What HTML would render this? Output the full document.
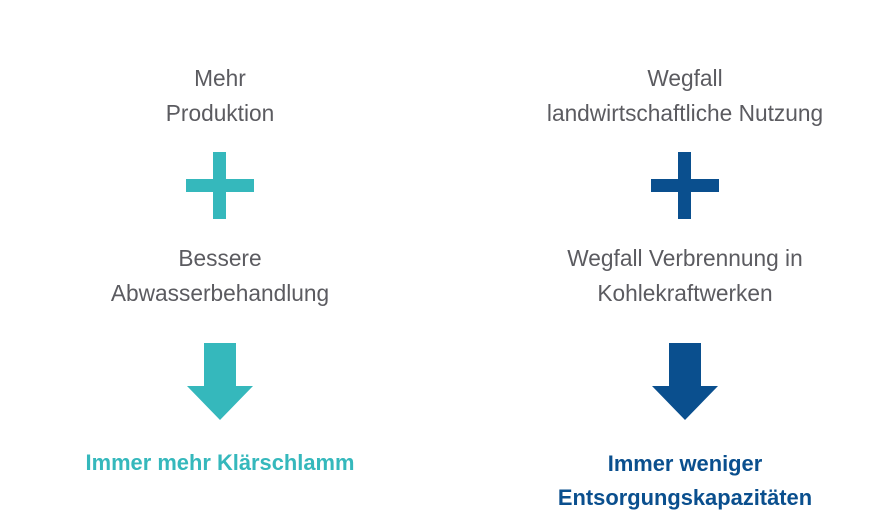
<!DOCTYPE html>
<html><head><meta charset="utf-8"><style>
html,body{margin:0;padding:0;background:#fff;}
body{width:891px;height:518px;position:relative;overflow:hidden;font-family:"Liberation Sans",sans-serif;}
.t{position:absolute;width:500px;text-align:center;color:#5b5b60;font-size:22.7px;line-height:35px;}
.b{position:absolute;width:500px;text-align:center;font-size:21.9px;font-weight:bold;line-height:34px;}
</style></head><body>
<div class="t" style="left:-30px;top:61px">Mehr<br>Produktion</div>
<div class="t" style="left:435px;top:61px">Wegfall<br>landwirtschaftliche Nutzung</div>
<div class="t" style="left:-30px;top:241px">Bessere<br>Abwasserbehandlung</div>
<div class="t" style="left:435px;top:241px">Wegfall Verbrennung in<br>Kohlekraftwerken</div>
<div class="b" style="left:-30px;top:446px;color:#35b8bc">Immer mehr Klärschlamm</div>
<div class="b" style="left:435px;top:447px;color:#0a4f8e">Immer weniger<br>Entsorgungskapazitäten</div>
<svg width="891" height="518" style="position:absolute;left:0;top:0">
<g fill="#35b8bc">
<rect x="213" y="152" width="13" height="67"/>
<rect x="186" y="179" width="68" height="13"/>
<polygon points="204,343 236,343 236,386 253,386 220,420 187,386 204,386"/>
</g>
<g fill="#0a4f8e">
<rect x="678" y="152" width="13" height="67"/>
<rect x="651" y="179" width="68" height="13"/>
<polygon points="669,343 701,343 701,386 718,386 685,420 652,386 669,386"/>
</g>
</svg>
</body></html>
